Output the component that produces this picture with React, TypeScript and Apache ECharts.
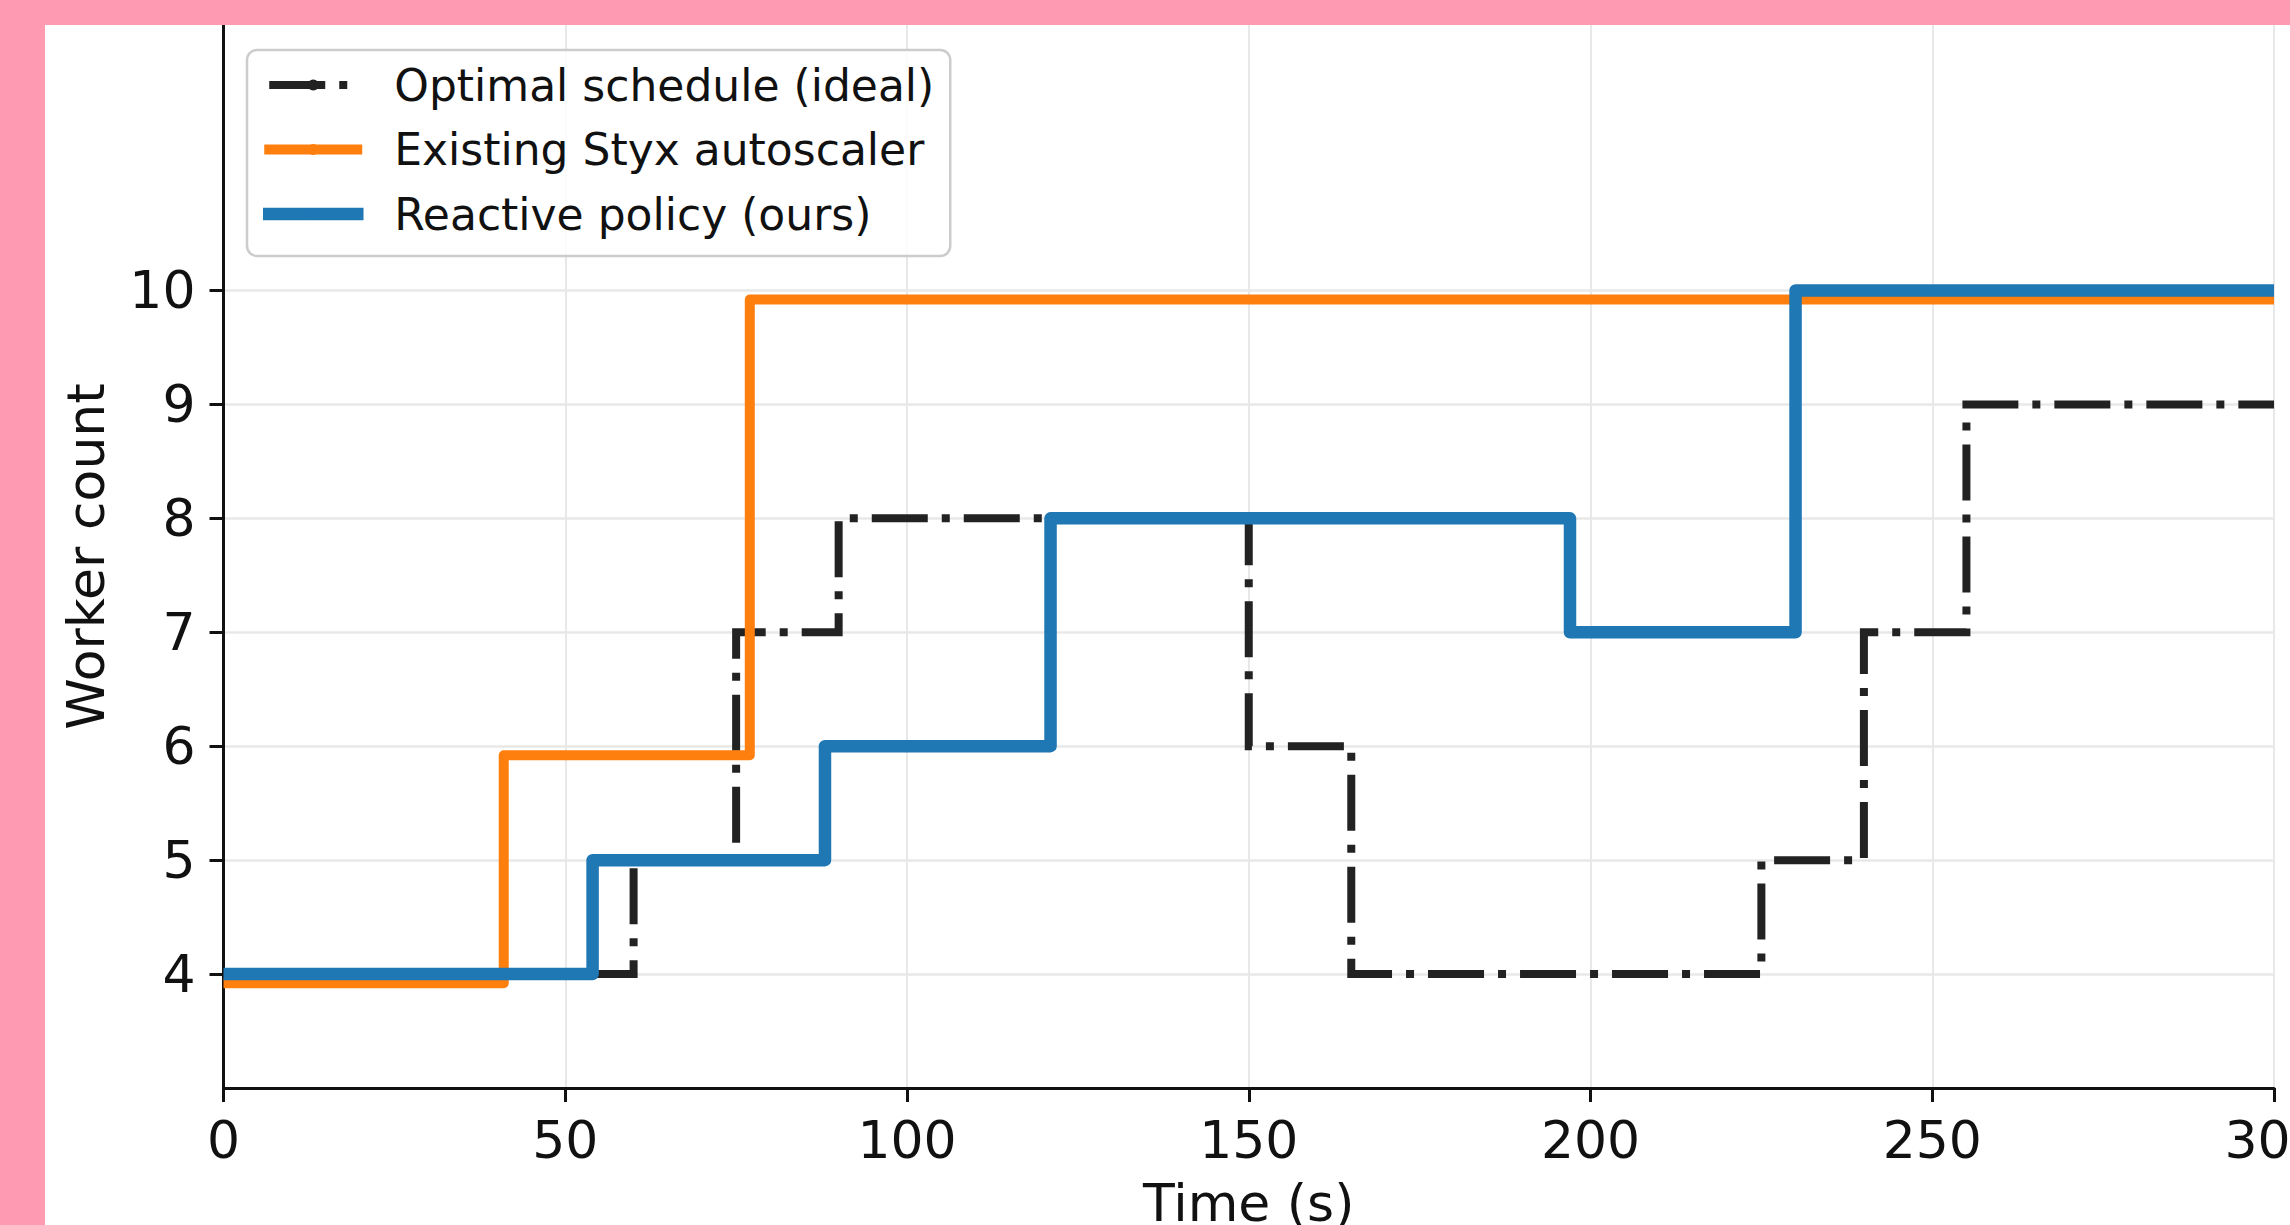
import React, { useEffect, useRef } from "react";
import * as echarts from "echarts";

// Optimal schedule (ideal): change points (time s) and worker counts
const optimalTimes = [0, 60, 75, 90, 150, 165, 225, 240, 255, 300];
const optimalWorkers = [4, 5, 7, 8, 6, 4, 5, 7, 9, 9];

// Existing Styx autoscaler (drawn slightly below integer levels in the source)
const styxTimes = [0, 41, 77, 300];
const styxWorkers = [3.92, 5.92, 9.92, 9.92];

// Reactive policy (ours)
const reactiveTimes = [0, 54, 88, 121, 197, 230, 300];
const reactiveWorkers = [4, 5, 6, 8, 7, 10, 10];

const seriesNames = [
  "Optimal schedule (ideal)",
  "Existing Styx autoscaler",
  "Reactive policy (ours)",
];

const yTicks = [4, 5, 6, 7, 8, 9, 10];

const pairs = (xs: number[], ys: number[]) => xs.map((x, i) => [x, ys[i]]);

export default function App() {
  const ref = useRef<HTMLDivElement>(null);

  useEffect(() => {
    if (!ref.current) return;
    const chart = echarts.init(ref.current, null, { renderer: "svg" });
    const font = "DejaVu Sans";
    const ink = "#111111";
    const gridColor = "#e8e8e8";

    chart.setOption({
      animation: false,
      backgroundColor: "#ffffff",
      textStyle: { fontFamily: font },
      grid: {
        left: 178.5,
        right: 16,
        top: 0,
        bottom: 137,
        containLabel: false,
        outerBoundsMode: "none",
      },
      legend: {
        orient: "vertical",
        left: 202,
        top: 25,
        itemWidth: 88,
        itemHeight: 14,
        itemGap: 14.5,
        padding: [10, 16, 17, 16],
        backgroundColor: "rgba(255,255,255,0.85)",
        borderColor: "#cccccc",
        borderWidth: 2.5,
        borderRadius: 10,
        selectedMode: false,
        textStyle: {
          fontFamily: font,
          fontSize: 44,
          lineHeight: 50,
          color: ink,
          padding: [0, 0, 0, 32],
        },
        data: [
          { name: seriesNames[0], lineStyle: { width: 8, cap: "butt" } },
          { name: seriesNames[1], lineStyle: { width: 10, cap: "square" } },
          { name: seriesNames[2], lineStyle: { width: 12.5, cap: "square" } },
        ],
      },
      xAxis: {
        type: "value",
        min: 0,
        max: 300,
        interval: 50,
        name: "Time (s)",
        nameLocation: "middle",
        nameGap: 89,
        nameTextStyle: { fontFamily: font, fontSize: 52, color: ink },
        axisLine: { show: true, onZero: false, lineStyle: { color: ink, width: 3 } },
        axisTick: { show: true, length: 14, lineStyle: { color: ink, width: 3 } },
        axisLabel: { fontFamily: font, fontSize: 52, color: ink, margin: 26 },
        splitLine: { show: true, lineStyle: { color: gridColor, width: 2 } },
      },
      yAxis: {
        type: "value",
        min: 3,
        max: 12.33,
        name: "Worker count",
        nameLocation: "middle",
        nameGap: 112,
        nameRotate: 90,
        nameTextStyle: { fontFamily: font, fontSize: 52, color: ink },
        axisLine: { show: true, onZero: false, lineStyle: { color: ink, width: 3 } },
        axisTick: {
          show: true,
          length: 14,
          customValues: yTicks,
          lineStyle: { color: ink, width: 3 },
        },
        axisLabel: {
          fontFamily: font,
          fontSize: 52,
          color: ink,
          margin: 28,
          customValues: yTicks,
        },
        splitLine: { show: true, lineStyle: { color: gridColor, width: 2.5 } },
      },
      series: [
        {
          name: seriesNames[0],
          type: "line",
          step: "end",
          symbol: "none",
          data: pairs(optimalTimes, optimalWorkers),
          lineStyle: {
            color: "#222222",
            width: 8,
            type: [56, 14, 8, 14],
            cap: "butt",
            join: "miter",
          },
          itemStyle: { color: "#222222" },
          z: 2,
        },
        {
          name: seriesNames[1],
          type: "line",
          step: "end",
          symbol: "none",
          data: pairs(styxTimes, styxWorkers),
          lineStyle: { color: "#ff7f0e", width: 10, join: "round", cap: "butt" },
          itemStyle: { color: "#ff7f0e" },
          z: 3,
        },
        {
          name: seriesNames[2],
          type: "line",
          step: "end",
          symbol: "none",
          data: pairs(reactiveTimes, reactiveWorkers),
          lineStyle: { color: "#1f77b4", width: 12.5, join: "round", cap: "butt" },
          itemStyle: { color: "#1f77b4" },
          z: 4,
        },
      ],
    });

    return () => {
      chart.dispose();
    };
  }, []);

  return (
    <div
      style={{
        position: "fixed",
        left: 0,
        top: 0,
        width: 2290,
        height: 1225,
        background: "#ff9ab3",
        overflow: "hidden",
      }}
    >
      <div
        ref={ref}
        style={{
          position: "absolute",
          left: 45,
          top: 25,
          width: 2245,
          height: 1200,
          background: "#ffffff",
        }}
      />
    </div>
  );
}
